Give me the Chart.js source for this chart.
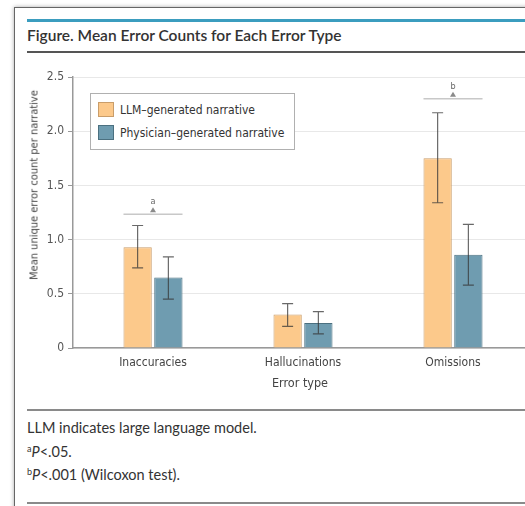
<!DOCTYPE html>
<html>
<head>
<meta charset="utf-8">
<script src="https://cdn.jsdelivr.net/npm/chart.js@4.4.1/dist/chart.umd.min.js"></script>
<style>
  html, body { margin: 0; padding: 0; background: #fff; overflow: hidden; width: 525px; height: 506px; }
  .frame { position: absolute; left: 14px; top: 7px; width: 620px; height: 620px;
           border: 1.5px solid #666; box-shadow: 0 0 4px rgba(0,0,0,0.35); background: #fff; }
  .rule-blue { position: absolute; left: 27px; top: 19px; width: 600px; height: 3px; background: #3b9dbf; }
  .fig-title { position: absolute; left: 27px; top: 26px; font: 600 15.5px Lato, sans-serif; color: #333; white-space: nowrap; }
  .rule-dark { position: absolute; left: 27px; top: 51px; width: 600px; height: 1.5px; background: #555; }
  .rule-grey { position: absolute; left: 27px; width: 600px; height: 2px; background: #8a8a8a; }
  .note { position: absolute; left: 27px; font: 14.5px Lato, sans-serif; color: #333; white-space: nowrap; }
  .note sup { font-size: 9px; vertical-align: 5px; }
  #wrap { position: absolute; left: 0; top: 60px; width: 540px; height: 340px; }
  .ytitle { position: absolute; left: 34px; top: 185px; transform: translate(-50%, -50%) rotate(-90deg);
            font: 11px "DejaVu Sans Condensed", "DejaVu Sans", sans-serif; color: #444; white-space: nowrap; }
  .legend { position: absolute; left: 90px; top: 93px; width: 203px; height: 55px; border: 1px solid #b0b0b0; background: #fff;
            font: 12px "DejaVu Sans Condensed", "DejaVu Sans", sans-serif; color: #333; }
  .legend .item { position: absolute; left: 7px; height: 16px; line-height: 16px; white-space: nowrap; }
  .legend .sw { display: inline-block; width: 16px; height: 15px; vertical-align: top; margin-right: 6px; box-sizing: border-box; border: 1px solid; }
</style>
</head>
<body>
<div class="frame"></div>
<div class="rule-blue"></div>
<div class="fig-title">Figure. Mean Error Counts for Each Error Type</div>
<div class="rule-dark"></div>

<div id="wrap"><canvas id="errorChart" width="540" height="340"></canvas></div>
<div class="ytitle">Mean unique error count per narrative</div>
<div class="legend">
  <div class="item" style="top:8px"><span class="sw" style="background:#fcc98b;border-color:#c99d6a"></span>LLM–generated narrative</div>
  <div class="item" style="top:31px"><span class="sw" style="background:#6f9cb0;border-color:#4b7080"></span>Physician–generated narrative</div>
</div>

<div class="rule-grey" style="top:409px"></div>
<div class="note" style="top:419px">LLM indicates large language model.</div>
<div class="note" style="top:443px"><sup>a</sup><i>P</i>&lt;.05.</div>
<div class="note" style="top:466px"><sup>b</sup><i>P</i>&lt;.001 (Wilcoxon test).</div>
<div class="rule-grey" style="top:502px"></div>

<script>
// categories and series
const errorTypes = ['Inaccuracies', 'Hallucinations', 'Omissions'];
const llmMeans = [0.93, 0.31, 1.75];
const llmLower = [0.74, 0.20, 1.34];
const llmUpper = [1.13, 0.41, 2.17];
const physMeans = [0.65, 0.23, 0.86];
const physLower = [0.45, 0.13, 0.58];
const physUpper = [0.84, 0.335, 1.14];
// significance brackets
const sigLevels = [1.235, null, 2.30];
const sigLabels = ['a', '', 'b'];
const yTicks = [0, 0.5, 1, 1.5, 2, 2.5];

const axisFont = { family: '"DejaVu Sans Condensed", "DejaVu Sans", sans-serif', size: 12 };

// error bars + significance markers on top of the bars
const errorBarPlugin = {
  id: 'errorBars',
  afterDatasetsDraw(chart) {
    const ctx = chart.ctx;
    const y = chart.scales.y;
    const bounds = [[llmLower, llmUpper], [physLower, physUpper]];
    ctx.save();
    bounds.forEach(function (b, d) {
      const meta = chart.getDatasetMeta(d);
      meta.data.forEach(function (bar, i) {
        const yLo = y.getPixelForValue(b[0][i]);
        const yHi = y.getPixelForValue(b[1][i]);
        ctx.strokeStyle = 'rgba(55,55,55,0.75)';
        ctx.lineWidth = 1.2;
        ctx.beginPath();
        ctx.moveTo(bar.x, yLo); ctx.lineTo(bar.x, yHi);
        ctx.moveTo(bar.x - 5.5, yLo); ctx.lineTo(bar.x + 5.5, yLo);
        ctx.moveTo(bar.x - 5.5, yHi); ctx.lineTo(bar.x + 5.5, yHi);
        ctx.stroke();
      });
    });

    const m0 = chart.getDatasetMeta(0).data;
    const m1 = chart.getDatasetMeta(1).data;
    sigLevels.forEach(function (lvl, i) {
      if (lvl === null) return;
      const x0 = m0[i].x - m0[i].width / 2;
      const x1 = m1[i].x + m1[i].width / 2;
      const cx = (x0 + x1) / 2;
      const py = y.getPixelForValue(lvl);
      ctx.strokeStyle = '#c8c8c8';
      ctx.lineWidth = 1.5;
      ctx.beginPath(); ctx.moveTo(x0, py); ctx.lineTo(x1, py); ctx.stroke();
      ctx.fillStyle = '#8a8a8a';
      ctx.beginPath();
      ctx.moveTo(cx - 3, py - 2); ctx.lineTo(cx + 3, py - 2); ctx.lineTo(cx, py - 7);
      ctx.closePath(); ctx.fill();
      ctx.fillStyle = '#666';
      ctx.font = '9px "DejaVu Sans Condensed", "DejaVu Sans", sans-serif';
      ctx.textAlign = 'center';
      ctx.textBaseline = 'middle';
      ctx.fillText(sigLabels[i], cx, py - 12);
    });
    ctx.restore();
  }
};

const ctx = document.getElementById('errorChart').getContext('2d');

new Chart(ctx, {
  type: 'bar',
  data: {
    datasets: [{
      label: 'LLM–generated narrative',
      data: llmMeans.map(function (v, i) { return { x: i, y: v }; }),
      backgroundColor: '#fcc98b',
      borderColor: '#c99d6a',
      borderWidth: 1
    }, {
      label: 'Physician–generated narrative',
      data: physMeans.map(function (v, i) { return { x: i, y: v }; }),
      backgroundColor: '#6f9cb0',
      borderColor: '#4b7080',
      borderWidth: 1
    }]
  },
  options: {
    responsive: false,
    animation: false,
    categoryPercentage: 0.41,
    barPercentage: 0.92,
    layout: { padding: { top: 17, right: 13, left: 0, bottom: 0 } },
    plugins: { legend: { display: false }, tooltip: { enabled: false } },
    scales: {
      x: {
        type: 'linear',
        offset: false,
        min: -0.5333,
        max: 2.4933,
        afterBuildTicks: function (scale) {
          scale.ticks = errorTypes.map(function (_, i) { return { value: i }; });
        },
        afterFit: function (scale) { scale.height = 52; },
        grid: { display: true, offset: false, drawOnChartArea: false, drawTicks: false },
        border: { color: '#999', width: 1.5 },
        ticks: {
          autoSkip: false,
          maxRotation: 0,
          padding: 8,
          color: '#444',
          font: axisFont,
          callback: function (value) { return errorTypes[value]; }
        },
        title: { display: true, text: 'Error type', color: '#444', font: { family: axisFont.family, size: 12.5 }, padding: { top: 6, bottom: 9 } }
      },
      y: {
        min: 0,
        max: 2.5,
        afterBuildTicks: function (scale) {
          scale.ticks = yTicks.map(function (v) { return { value: v }; });
        },
        afterFit: function (scale) { scale.width = 73; },
        grid: { color: '#e8e8e8', tickColor: '#999', tickLength: 5 },
        border: { color: '#999', width: 1.5 },
        ticks: {
          padding: 4,
          color: '#555',
          font: axisFont,
          callback: function (value) { return value === 0 ? '0' : value.toFixed(1); }
        }
      }
    }
  },
  plugins: [errorBarPlugin]
});
</script>
</body>
</html>
